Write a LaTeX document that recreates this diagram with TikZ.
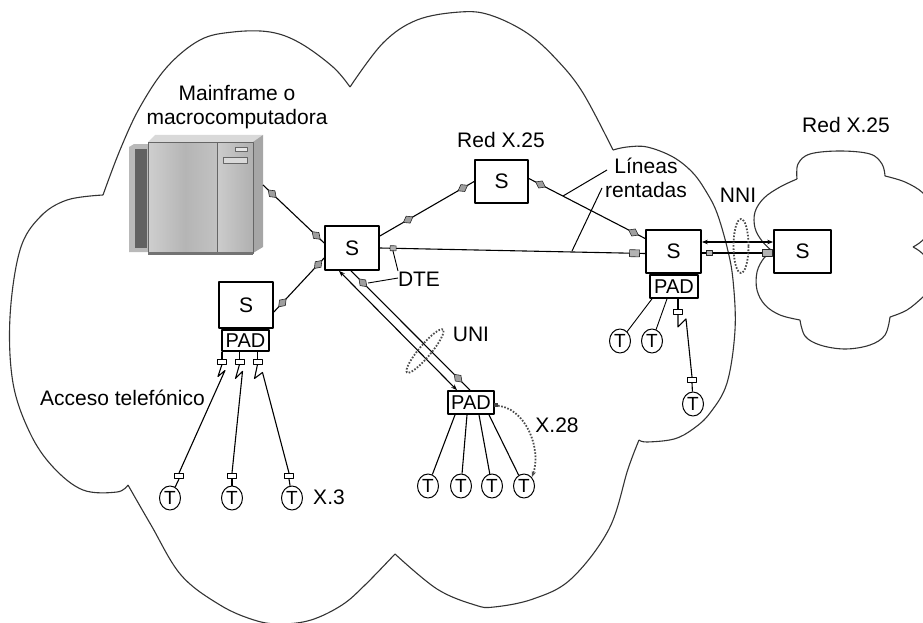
\documentclass[tikz,border=0pt]{standalone}
\usepackage{fontspec}
\setmainfont{Liberation Sans}
\usetikzlibrary{arrows.meta,calc,shapes.geometric}

\begin{document}
\begin{tikzpicture}[x=1pt,y=-1pt, line join=round,
  sw/.style={draw, line width=1.7pt, minimum width=54pt, minimum height=44pt, inner sep=0pt, font=\fontsize{21}{21}\selectfont},
  padbox/.style={draw, line width=1.7pt, minimum width=47pt, minimum height=22pt, inner sep=0pt, font=\fontsize{20}{20}\selectfont},
  term/.style={ellipse, draw, line width=1pt, minimum width=21pt, minimum height=24pt, inner sep=0pt, font=\fontsize{19}{19}\selectfont},
  portbox/.style={draw, fill=white, line width=0.9pt, minimum width=9pt, minimum height=5pt, inner sep=0pt},
  lbl/.style={font=\fontsize{21}{24.5}\selectfont, inner sep=0pt},
  link/.style={line width=1.1pt},
  cloudline/.style={draw=black!80, line width=1.1pt},
  nic/.style={draw=black!70, line width=1.8pt, dash pattern=on 1.6pt off 1.6pt},
  endarrow/.style={-{Stealth[length=6pt,width=4.5pt]}},
  botharrow/.style={{Stealth[length=6pt,width=4.5pt]}-{Stealth[length=6pt,width=4.5pt]}},
  gem/.pic={\filldraw[fill=gray!75, draw=black!85, line width=0.6pt] (-5.5,0) -- (0,4) -- (5.5,0) -- (0,-4) -- cycle;},
  sqp/.pic={\filldraw[fill=gray!60, draw=black!85, line width=0.6pt] (-3,-2.5) rectangle (3,2.5);},
  bigp/.pic={\filldraw[fill=gray!60, draw=black!85, line width=0.6pt] (-5,-3.5) rectangle (5,3.5);},
]
\clip (0,0) rectangle (923,623);

% ---------- main network cloud ----------
\draw[cloudline] plot[smooth, tension=.6] coordinates {(103,195) (120,150) (140,107) (167,67) (200,40) (233,32) (270,32) (300,43) (333,67) (350,87)};
\draw[cloudline] plot[smooth, tension=.6] coordinates {(350,87) (383,43) (417,20) (460,12) (490,15) (527,33) (557,60) (583,93) (613,150)};
\draw[cloudline] plot[smooth, tension=.6] coordinates {(613,150) (627,147) (647,147) (673,157) (693,173) (707,193) (717,213) (727,247) (733,280) (735,330) (727,383) (710,413) (693,429) (674,439) (647,442) (639,440)};
\draw[cloudline] plot[smooth, tension=.6] coordinates {(639,440) (628,469) (609,529) (571,579) (533,599) (494,607) (475,605) (437,589) (395,554)};
\draw[cloudline] plot[smooth, tension=.6] coordinates {(395,554) (365,585) (342,605) (311,620) (280,624) (254,620) (220,605) (181,575) (151,525) (128,485)};
\draw[cloudline] plot[smooth, tension=.6] coordinates {(128,485) (117,492) (83,490) (53,467) (30,433) (13,383) (10,317) (20,250) (40,217) (67,200) (103,195)};

% ---------- neighbouring network cloud ----------
\draw[cloudline] plot[smooth, tension=.6] coordinates {(772,251) (762,241) (755,228) (755,212) (764,198) (780,187) (797,179)};
\draw[cloudline] plot[smooth, tension=.6] coordinates {(797,179) (798,164) (810,154) (840,151) (870,154) (882,164) (885,176)};
\draw[cloudline] plot[smooth, tension=.6] coordinates {(885,176) (905,182) (923,193) (935,210)};
\draw[cloudline] plot[smooth, tension=.6] coordinates {(935,225) (923,240) (913,247)};
\draw[cloudline] plot[smooth, tension=.6] coordinates {(913,247) (923,254) (935,270)};
\draw[cloudline] plot[smooth, tension=.6] coordinates {(935,285) (923,297) (907,310) (890,317)};
\draw[cloudline] plot[smooth, tension=.6] coordinates {(890,317) (885,335) (870,345) (845,349) (820,345) (805,336) (800,320)};
\draw[cloudline] plot[smooth, tension=.6] coordinates {(800,320) (780,315) (765,305) (757,290) (757,272) (764,258) (772,253)};

% ---------- mainframe cabinet ----------
\fill[gray!55] (129,147) -- (134,144) -- (148,144) -- (148,252) -- (129,252) -- cycle;
\fill[black!62] (135,149) rectangle (147,248);
\fill[gray!30] (148,142) -- (155,135) -- (263,135) -- (256,142) -- cycle;
\shade[left color=gray!38, right color=gray!58] (148,142) rectangle (185,253);
\shade[left color=gray!58, right color=gray!48] (185,142) rectangle (217,253);
\shade[left color=gray!40, right color=gray!62] (217,142) rectangle (253,253);
\fill[gray!70] (253,142) -- (263,135) -- (263,247) -- (253,253) -- cycle;
\draw[gray!80!black, line width=0.6pt] (217,142) -- (217,253) (148,142) rectangle (253,253);
\filldraw[fill=gray!20, draw=black!60, line width=0.6pt] (235,147) rectangle (247,151);
\filldraw[fill=gray!30, draw=black!60, line width=0.6pt] (223,157) rectangle (247,163);
\fill[black!55] (148,252) rectangle (253,255);
\coordinate (mfport) at (263,185);

% ---------- packet switches and PADs ----------
\node[sw] (s1) at (352,248) {S};
\node[sw, minimum width=53pt, minimum height=43pt] (stop) at (501.5,181.5) {S};
\node[sw, minimum width=55pt, minimum height=43pt] (sr) at (673.5,251.5) {S};
\node[sw, minimum width=57pt, minimum height=43pt] (sfr) at (802.5,251.5) {S};
\node[sw, minimum height=46pt] (sl) at (246,305) {S};
\node[padbox, minimum height=21pt] (padl) at (245.5,340.5) {PAD};
\node[padbox, minimum width=48pt, minimum height=23pt] (padr) at (674,286.5) {PAD};
\node[padbox, minimum width=46pt, minimum height=23pt] (padm) at (471,402.5) {PAD};

% ---------- terminals ----------
\node[term] (tl1) at (170,498) {T};
\node[term] (tl2) at (232,498) {T};
\node[term] (tl3) at (292,498) {T};
\node[term] (tm1) at (428,486) {T};
\node[term] (tm2) at (461,486) {T};
\node[term] (tm3) at (492,486) {T};
\node[term] (tm4) at (524,486) {T};
\node[term] (tr1) at (620,341) {T};
\node[term] (tr2) at (652,341) {T};
\node[term] (tr3) at (693,404) {T};

% ---------- modem ports ----------
\node[portbox] (pl1) at (222,361.5) {};
\node[portbox] (pl2) at (239.5,361.5) {};
\node[portbox] (pl3) at (257.5,361.5) {};
\node[portbox] (ql1) at (179,476) {};
\node[portbox] (ql2) at (232,476) {};
\node[portbox] (ql3) at (289,476) {};
\node[portbox] (pr3) at (678,312) {};
\node[portbox] (qr3) at (692,380) {};

% ---------- trunk links ----------
\draw[link] (mfport) -- pic[pos=.15,sloped]{gem} pic[pos=.87,sloped]{gem} ([yshift=5pt]s1.west);
\draw[link] ([yshift=-7pt]sl.east) -- pic[pos=.17,sloped]{gem} pic[pos=.88,sloped]{gem} ([yshift=-10pt]s1.west);
\draw[link] ([yshift=12pt]s1.east) -- pic[pos=.3,sloped]{gem} pic[pos=.88,sloped]{gem} (stop.west);
\draw[link] ([yshift=3pt]stop.east) -- pic[pos=.1,sloped]{gem} pic[pos=.9,sloped]{gem} ([yshift=13pt]sr.west);
\draw[link] (s1.east) -- pic[pos=.05,sloped]{sqp} pic[pos=.96,sloped]{bigp} ([yshift=-2pt]sr.west);
\draw[link, botharrow] ([xshift=-13pt]s1.south) -- ([xshift=-14pt]padm.north);
\draw[link] ([xshift=-1pt]s1.south) -- pic[pos=.1,sloped]{gem} pic[pos=.9,sloped]{gem} ([xshift=-1pt]padm.north);
\draw[line width=1.5pt, botharrow] ([yshift=9.5pt]sr.east) -- ([yshift=9.5pt]sfr.west);
\draw[line width=2pt] ([yshift=-1.5pt]sr.east) -- pic[pos=.1]{sqp} pic[pos=.92]{bigp} ([yshift=-1.5pt]sfr.west);

% ---------- dial-up access ----------
\draw[link] (pl1.north |- padl.south) -- (pl1.north);
\draw[link] (pl2.north |- padl.south) -- (pl2.north);
\draw[link] (pl3.north |- padl.south) -- (pl3.north);
\draw[link] (pl1.south) -- ++(-4,12) -- ++(7,-6) -- (ql1.north);
\draw[link] (pl2.south) -- ++(-4,14) -- ++(7,-7) -- (ql2.north);
\draw[link] (pl3.south) -- ++(-3,14) -- ++(8,-6) -- (ql3.north);
\draw[link] (ql1.south) -- (tl1);
\draw[link] (ql2.south) -- (tl2);
\draw[link] (ql3.south) -- (tl3);

% ---------- terminals on the remote PAD ----------
\draw[link] ([xshift=-16pt]padm.south) -- (tm1);
\draw[link] ([xshift=-4pt]padm.south) -- (tm2);
\draw[link] ([xshift=8pt]padm.south) -- (tm3);
\draw[link] ([xshift=18pt]padm.south) -- (tm4);
\fill[black!75] ([yshift=-2pt]padm.east) ++(-1,-2) rectangle ++(4,4);
\draw[nic, endarrow] ([yshift=-3pt]padm.east) .. controls (526,406) and (542,450) .. (tm4.north east);

% ---------- terminals on the border switch ----------
\draw[link, line width=0.9pt] ([xshift=-22pt]padr.south) -- (tr1);
\draw[link, line width=0.9pt] ([xshift=-7pt]padr.south) -- (tr2);
\draw[link] (pr3.north |- padr.south) -- (pr3.north);
\draw[link] (pr3.south) -- ++(0,12) -- ++(8,-8) -- (qr3.north);
\draw[link] (qr3.south) -- (tr3);

% ---------- interface rings ----------
\draw[nic] (741,246) ellipse [x radius=7.5pt, y radius=27pt];
\draw[nic, rotate around={50:(425,351)}] (425,351) ellipse [x radius=28pt, y radius=6pt];

% ---------- labels ----------
\node[lbl, align=center] (mflabel) at (237,107) {Mainframe o\\macrocomputadora};
\node[lbl] (red1) at (501,140) {Red X.25};
\node[lbl] (red2) at (846,125) {Red X.25};
\node[lbl, align=center] (lineas) at (646,178) {Líneas\\rentadas};
\node[lbl] (nni) at (738,195) {NNI};
\node[lbl] (dte) at (419,279) {DTE};
\node[lbl] (uni) at (471,334) {UNI};
\node[lbl] (x28) at (557,425) {X.28};
\node[lbl] (x3) at (329,497) {X.3};
\node[lbl, anchor=west] (acceso) at (40,398) {Acceso telefónico};

% ---------- label leaders ----------
\coordinate (lnA) at (607,170);
\coordinate (lnB) at (563,196);
\coordinate (lnC) at (602,188);
\coordinate (lnD) at (572,251);
\coordinate (dteA) at (398,271);
\coordinate (dteB) at (393,251);
\coordinate (dteC) at (398,278);
\coordinate (dteD) at (368,283);
\draw[line width=1pt] (lnA) -- (lnB);
\draw[line width=1pt] (lnC) -- (lnD);
\draw[line width=0.9pt] (dteA) -- (dteB);
\draw[line width=0.9pt] (dteC) -- (dteD);
\end{tikzpicture}
\end{document}
